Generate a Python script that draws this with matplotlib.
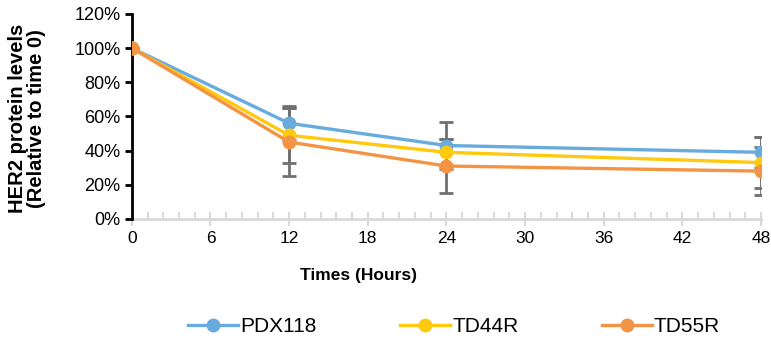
import numpy as np
import matplotlib.pyplot as plt
from matplotlib.ticker import MultipleLocator, FuncFormatter

# time points (hours) and HER2 levels (% of time 0)
hours = [0, 12, 24, 48]
pdx118 = [100, 56, 43, 39]
td44r = [100, 49, 39, 33]
td55r = [100, 45, 31, 28]

# error bars (+/-)
pdx118_err = [0, 10, 14, 9]
td44r_err = [0, 16, 8, 15]
td55r_err = [0, 20, 16, 14]

series = [
    ("PDX118", pdx118, pdx118_err, "#67ABDF"),
    ("TD44R", td44r, td44r_err, "#FFC90E"),
    ("TD55R", td55r, td55r_err, "#F39445"),
]

plt.rcParams["font.family"] = ["Liberation Sans", "DejaVu Sans"]

fig = plt.figure(figsize=(7.71, 3.39), dpi=100)
ax = fig.add_axes([0.171, 0.354, 0.816, 0.605])

# error bars first, behind the lines
for name, vals, err, col in series:
    ax.errorbar(hours, vals, yerr=err, fmt="none", ecolor="#707070",
                elinewidth=2, capsize=5, capthick=2, zorder=2)

for name, vals, err, col in series:
    ax.plot(hours, vals, color=col, lw=2.4, marker="o", ms=9,
            label=name, zorder=3)

ax.set_xlim(0, 48)
ax.set_ylim(0, 120)
ax.xaxis.set_major_locator(MultipleLocator(6))
ax.xaxis.set_minor_locator(MultipleLocator(1.2))
ax.yaxis.set_major_locator(MultipleLocator(20))
ax.yaxis.set_major_formatter(FuncFormatter(lambda v, p: f"{v:.0f}%"))

for s in ["top", "right"]:
    ax.spines[s].set_visible(False)
ax.spines["left"].set_color("black")
ax.spines["left"].set_linewidth(2)
ax.spines["bottom"].set_color("#D9D9D9")
ax.spines["bottom"].set_linewidth(2)
ax.spines["bottom"].set_zorder(1)

ax.tick_params(axis="y", direction="out", length=5, width=2, colors="black",
               labelsize=13, pad=3)
ax.tick_params(axis="x", which="major", direction="inout", length=10,
               width=1.5, color="#D9D9D9", labelsize=12.5, pad=4)
ax.tick_params(axis="x", which="minor", direction="in", length=5,
               width=1.5, color="#D9D9D9")

ax.set_xlabel("Times (Hours)", fontsize=12.5, fontweight="bold")
ax.xaxis.set_label_coords(0.36, -0.24)
ax.set_ylabel("HER2 protein levels\n(Relative to time 0)", fontsize=14.5,
              fontweight="bold", linespacing=1.0)
ax.yaxis.set_label_coords(-0.137, 0.49)

fig.legend(loc="lower center", bbox_to_anchor=(0.589, -0.047), ncol=3,
           frameon=False, handlelength=2.4, columnspacing=4.0,
           handletextpad=0.1, prop={"size": 15})

fig.savefig("out.png", dpi=100)
